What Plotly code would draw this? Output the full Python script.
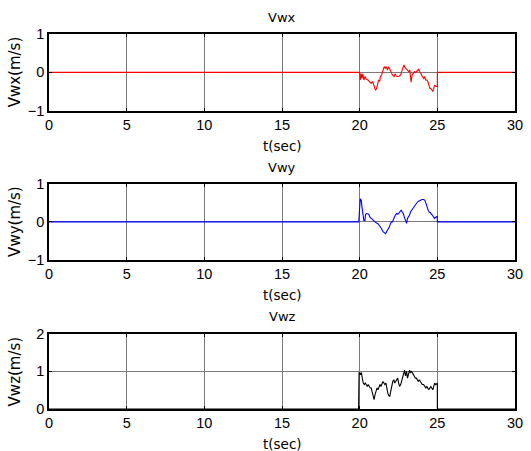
import plotly.graph_objects as go

# ---- data ----
t_x = [0, 20.0, 20.04, 20.10, 20.15, 20.21, 20.27, 20.36, 20.42, 20.53, 20.63, 20.74, 20.84, 20.95,
       21.01, 21.08, 21.16, 21.22, 21.29, 21.33, 21.41, 21.48, 21.54, 21.58, 21.65, 21.71, 21.79,
       21.86, 21.92, 22.00, 22.11, 22.22, 22.28, 22.36, 22.43, 22.53, 22.64, 22.70, 22.79, 22.85,
       22.91, 22.97, 23.06, 23.16, 23.23, 23.31, 23.38, 23.44, 23.52, 23.59, 23.65, 23.73, 23.80,
       23.86, 23.95, 24.03, 24.12, 24.18, 24.24, 24.33, 24.39, 24.45, 24.52, 24.58, 24.64, 24.71,
       24.77, 24.83, 24.90, 24.96, 25.0, 25.0, 30]
vwx = [0, 0, -0.20, -0.03, -0.16, -0.04, -0.20, -0.11, -0.18, -0.20, -0.24, -0.29, -0.24, -0.37,
       -0.46, -0.44, -0.29, -0.20, -0.24, -0.11, -0.07, 0.02, 0.10, 0.15, 0.10, 0.15, 0.06,
       0.13, 0.10, 0.02, -0.07, -0.11, -0.04, -0.10, -0.11, -0.10, -0.07, 0.02, 0.15, 0.19,
       0.13, 0.10, 0.06, 0.02, 0.06, -0.26, -0.07, -0.03, 0.02, -0.01, 0.02, 0.06, 0.08,
       0.02, -0.03, -0.11, -0.16, -0.11, -0.20, -0.20, -0.24, -0.33, -0.42, -0.42, -0.46, -0.50,
       -0.42, -0.33, -0.37, -0.37, -0.37, 0, 0]

t_y = [0, 19.94, 20.04, 20.10, 20.15, 20.21, 20.27, 20.34, 20.38, 20.44, 20.53, 20.59, 20.65, 20.74,
       20.80, 20.86, 20.93, 20.99, 21.08, 21.16, 21.25, 21.33, 21.41, 21.50, 21.58, 21.67, 21.73,
       21.79, 21.86, 21.92, 21.98, 22.05, 22.11, 22.17, 22.24, 22.30, 22.38, 22.45, 22.53, 22.62,
       22.68, 22.74, 22.81, 22.87, 22.95, 23.02, 23.08, 23.14, 23.21, 23.27, 23.35, 23.44, 23.50,
       23.56, 23.65, 23.73, 23.82, 23.90, 24.01, 24.11, 24.20, 24.26, 24.33, 24.41, 24.47, 24.56,
       24.62, 24.68, 24.75, 24.83, 24.92, 24.96, 25.0, 25.0, 30]
vwy = [0, 0, 0.61, 0.57, 0.39, 0.13, 0.04, 0.04, 0.20, 0.22, 0.20, 0.20, 0.13, 0.09,
       0.06, 0.04, 0.00, 0.00, -0.03, -0.04, -0.09, -0.13, -0.18, -0.26, -0.29, -0.31, -0.26,
       -0.22, -0.20, -0.13, -0.04, 0.00, 0.00, 0.09, 0.13, 0.18, 0.22, 0.20, 0.24, 0.26,
       0.31, 0.26, 0.22, 0.13, 0.04, -0.04, 0.09, 0.13, 0.18, 0.26, 0.31, 0.35, 0.38,
       0.44, 0.48, 0.53, 0.55, 0.57, 0.59, 0.59, 0.57, 0.50, 0.39, 0.31, 0.26, 0.24,
       0.20, 0.18, 0.13, 0.09, 0.13, 0.15, 0.15, 0, 0]

t_z = [0, 19.93, 19.96, 20.00, 20.06, 20.11, 20.17, 20.23, 20.30, 20.36, 20.42, 20.49, 20.55, 20.61,
       20.68, 20.74, 20.80, 20.86, 20.93, 20.99, 21.05, 21.12, 21.18, 21.24, 21.31, 21.37, 21.43,
       21.50, 21.56, 21.62, 21.69, 21.75, 21.81, 21.88, 21.94, 22.00, 22.07, 22.13, 22.20, 22.26,
       22.32, 22.38, 22.45, 22.51, 22.57, 22.64, 22.70, 22.76, 22.83, 22.89, 22.95, 23.02, 23.08,
       23.14, 23.21, 23.27, 23.33, 23.40, 23.46, 23.52, 23.59, 23.65, 23.71, 23.78, 23.84, 23.90,
       23.97, 24.03, 24.11, 24.20, 24.26, 24.33, 24.39, 24.45, 24.52, 24.58, 24.64, 24.71, 24.77,
       24.83, 24.90, 24.96, 25.0, 25.0, 30]
vwz = [0, 0, 0.96, 0.96, 0.91, 0.97, 0.82, 0.69, 0.65, 0.69, 0.65, 0.60, 0.65, 0.60,
       0.56, 0.56, 0.47, 0.34, 0.25, 0.38, 0.51, 0.56, 0.51, 0.60, 0.65, 0.60, 0.69,
       0.73, 0.69, 0.65, 0.69, 0.51, 0.42, 0.35, 0.34, 0.47, 0.65, 0.73, 0.78, 0.69,
       0.73, 0.78, 0.82, 0.69, 0.60, 0.65, 0.73, 0.82, 0.91, 1.03, 0.88, 1.00, 0.82,
       0.91, 1.03, 0.96, 1.00, 0.96, 0.91, 0.87, 0.82, 0.82, 0.78, 0.73, 0.78, 0.73,
       0.69, 0.65, 0.65, 0.60, 0.56, 0.60, 0.56, 0.51, 0.56, 0.60, 0.56, 0.51, 0.60,
       0.69, 0.65, 0.69, 0.69, 0, 0]

titles = ["Vwx", "Vwy", "Vwz"]
ylabels = ["Vwx(m/s)", "Vwy(m/s)", "Vwz(m/s)"]
xlabel = "t(sec)"
x_ticks = [0, 5, 10, 15, 20, 25, 30]
y_ticks = [[-1, 0, 1], [-1, 0, 1], [0, 1, 2]]
colors = ["#ff0000", "#0000ff", "#000000"]

FONT = "DejaVu Sans, Arial, sans-serif"
TICKFONT = "Liberation Sans, Arial, sans-serif"
W, H = 531, 451
ML, MR, MT, MB = 49, 8, 34, 42

series = [(t_x, vwx), (t_y, vwy), (t_z, vwz)]
domains = [[0.7956, 1.0], [0.398, 0.600], [0.0, 0.2006]]

fig = go.Figure()
annotations = []
for i, ((tt, vv), dom) in enumerate(zip(series, domains)):
    n = "" if i == 0 else str(i + 1)
    fig.add_trace(go.Scatter(x=tt, y=vv, mode="lines",
                             line=dict(color=colors[i], width=1.1),
                             xaxis="x" + n, yaxis="y" + n, showlegend=False,
                             hoverinfo="skip"))
    axcommon = dict(showline=True, linecolor="black", linewidth=1.5, mirror="ticks",
                    ticks="inside", ticklen=3, tickcolor="black", tickwidth=1,
                    showgrid=True, gridcolor="#7a7a7a", gridwidth=1, zeroline=False,
                    tickfont=dict(family=TICKFONT, size=14.5, color="black"))
    fig.layout["xaxis" + n] = dict(domain=[0, 1], range=[0, 30], tickvals=x_ticks,
                                   anchor="y" + n, **axcommon)
    fig.layout["yaxis" + n] = dict(domain=dom, range=[y_ticks[i][0], y_ticks[i][-1]],
                                   tickvals=y_ticks[i], anchor="x" + n, **axcommon)
    xd = "x" + n + " domain"
    yd = "y" + n + " domain"
    annotations.append(dict(text=titles[i], xref=xd, yref=yd, x=0.5, y=1, yshift=17,
                            showarrow=False, yanchor="middle",
                            font=dict(family=FONT, size=13, color="black")))
    annotations.append(dict(text=xlabel, xref=xd, yref=yd, x=0.5, y=0, yshift=-35,
                            showarrow=False, yanchor="middle",
                            font=dict(family=FONT, size=13.5, color="black")))
    annotations.append(dict(text=ylabels[i], xref=xd, yref=yd, x=0, y=0.5, xshift=-34,
                            showarrow=False, textangle=-90, xanchor="center",
                            font=dict(family=FONT, size=15, color="black")))

fig.update_layout(width=W, height=H, margin=dict(l=ML, r=MR, t=MT, b=MB),
                  paper_bgcolor="white", plot_bgcolor="white",
                  annotations=annotations, showlegend=False)

fig.write_html("out.html", config={"displayModeBar": False},
               post_script="document.body.style.margin='0';document.body.style.overflow='hidden';")
